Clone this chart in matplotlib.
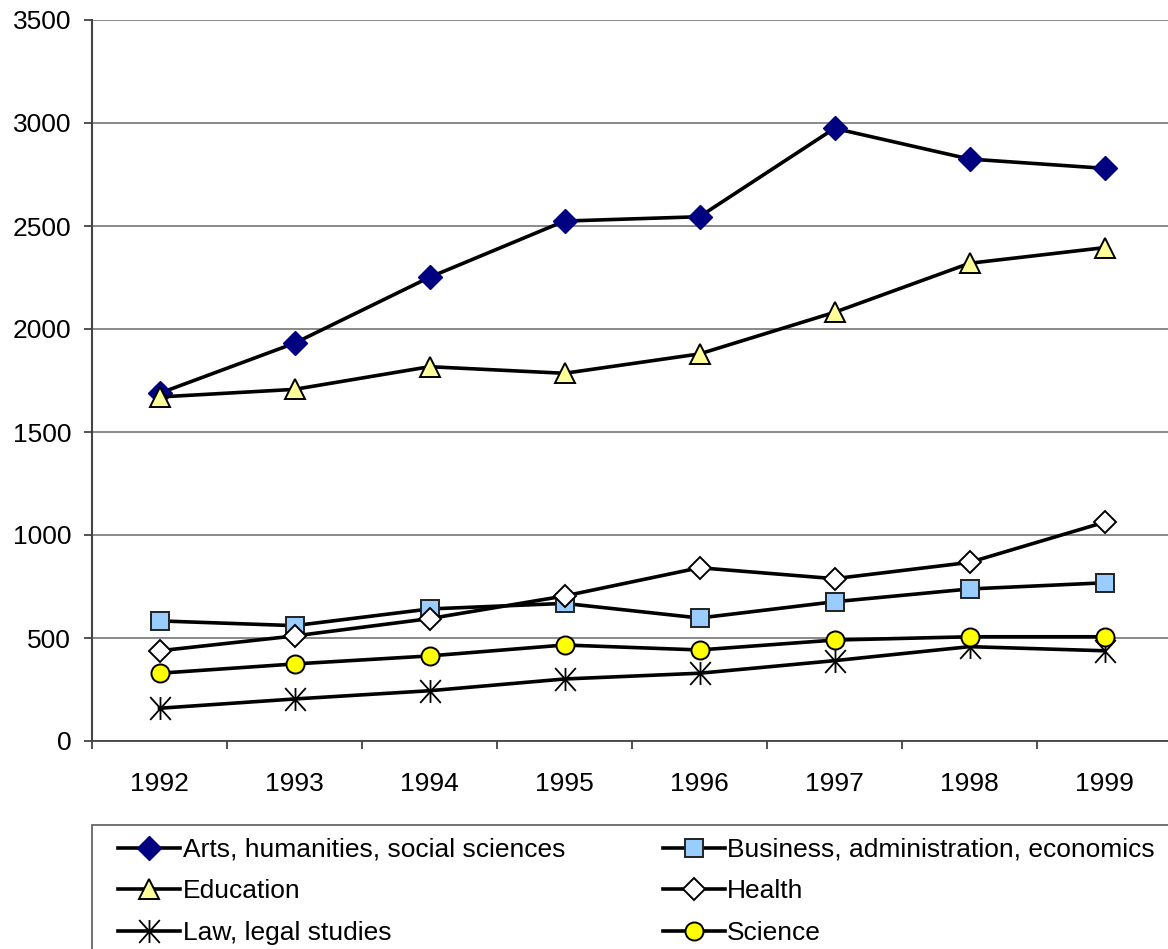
import matplotlib
matplotlib.use("Agg")
import matplotlib.pyplot as plt
from matplotlib.path import Path
from matplotlib.patches import Rectangle

plt.rcParams["font.family"] = ["Liberation Sans", "DejaVu Sans"]

years = ["1992", "1993", "1994", "1995", "1996", "1997", "1998", "1999"]

arts = [1688, 1931, 2251, 2524, 2545, 2974, 2825, 2780]
business = [583, 560, 641, 668, 597, 676, 738, 768]
education = [1670, 1707, 1817, 1785, 1879, 2081, 2319, 2395]
health = [438, 510, 594, 704, 841, 788, 867, 1062]
law = [159, 204, 244, 301, 329, 390, 458, 438]
science = [329, 374, 413, 466, 442, 490, 506, 506]

# asterisk like the spreadsheet one: vertical bar plus an X
star = Path(
    [(0, -1), (0, 1), (-0.9, -1), (0.9, 1), (-0.9, 1), (0.9, -1)],
    [Path.MOVETO, Path.LINETO, Path.MOVETO, Path.LINETO, Path.MOVETO, Path.LINETO],
)

W, H = 1168, 949
fig = plt.figure(figsize=(W / 100, H / 100), dpi=100)
ax = fig.add_axes([92 / W, 1 - 741 / H, (1172 - 92) / W, (741 - 20) / H])

x = list(range(len(years)))
lw = 2.6
series = [
    ("Arts, humanities, social sciences", arts, dict(marker="D", ms=12.5, mfc="#000080", mec="#000080", mew=1)),
    ("Education", education, dict(marker="^", ms=15, mfc="#ffff99", mec="black", mew=1.4)),
    ("Law, legal studies", law, dict(marker=star, ms=16.5, mfc="none", mec="black", mew=1.3)),
    ("Business, administration, economics", business, dict(marker="s", ms=13, mfc="#99ccff", mec="#222222", mew=1.4)),
    ("Health", health, dict(marker="D", ms=11.5, mfc="white", mec="black", mew=1.4)),
    ("Science", science, dict(marker="o", ms=13, mfc="#ffff00", mec="black", mew=1.4)),
]

draw_order = [0, 3, 1, 4, 2, 5]
handles = {}
for i in draw_order:
    label, vals, style = series[i]
    (h,) = ax.plot(x, vals, color="black", lw=lw, label=label, zorder=3, clip_on=False, **style)
    handles[i] = h

ax.set_xlim(-0.5, 7.5)
ax.set_ylim(0, 3500)
ax.set_yticks(range(0, 3501, 500))
ax.yaxis.grid(True, color="#808080", lw=1.3)
ax.set_axisbelow(True)

ax.set_xticks([i - 0.5 for i in range(len(years) + 1)])
ax.set_xticklabels([])
ax.set_xticks(x, minor=True)
ax.set_xticklabels(years, minor=True)
ax.tick_params(axis="x", which="major", direction="out", length=6, width=1.2, color="#333333")
ax.tick_params(axis="x", which="minor", length=0, pad=22, labelsize=19)
ax.tick_params(axis="y", direction="out", length=6, width=1.2, color="#333333", pad=9, labelsize=19)

for s in ["top", "right"]:
    ax.spines[s].set_visible(False)
ax.spines["left"].set_color("#444444")
ax.spines["left"].set_linewidth(1.5)
ax.spines["bottom"].set_color("#444444")
ax.spines["bottom"].set_linewidth(1.3)

# legend frame runs off the bottom and right of the picture
fig.patches.append(Rectangle((92 / W, -0.1), 1.2, (1 - 825 / H) + 0.1, transform=fig.transFigure,
                             fill=False, edgecolor="#666666", lw=1.3))

leg = fig.legend(
    [handles[i] for i in range(6)],
    [series[i][0] for i in range(6)],
    loc="upper left",
    bbox_to_anchor=(118 / W, 1 - 838 / H),
    ncol=2,
    frameon=False,
    fontsize=19,
    handlelength=2.35,
    handletextpad=0.1,
    columnspacing=3.7,
    labelspacing=0.66,
    borderpad=0,
    borderaxespad=0,
)

fig.savefig("out.png", dpi=100)
